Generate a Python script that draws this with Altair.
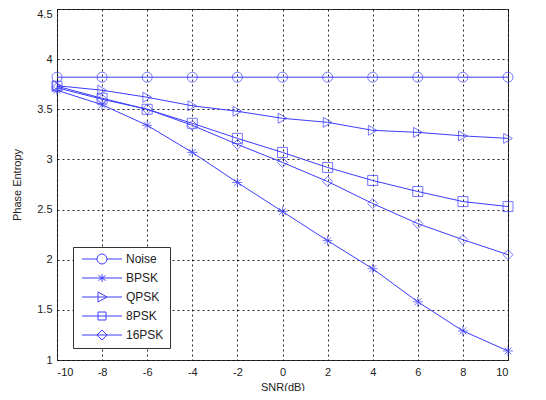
import altair as alt
import pandas as pd

snr = [-10, -8, -6, -4, -2, 0, 2, 4, 6, 8, 10]
series = ["Noise", "BPSK", "QPSK", "8PSK", "16PSK"]
noise = [3.82, 3.82, 3.82, 3.82, 3.82, 3.82, 3.82, 3.82, 3.82, 3.82, 3.82]
bpsk = [3.69, 3.545, 3.34, 3.07, 2.77, 2.48, 2.19, 1.91, 1.58, 1.29, 1.09]
qpsk = [3.735, 3.69, 3.62, 3.535, 3.48, 3.41, 3.37, 3.29, 3.27, 3.235, 3.21]
psk8 = [3.73, 3.61, 3.50, 3.36, 3.21, 3.07, 2.92, 2.79, 2.68, 2.58, 2.53]
psk16 = [3.715, 3.60, 3.50, 3.34, 3.15, 2.97, 2.78, 2.56, 2.36, 2.20, 2.05]
x_ticks = [-10, -8, -6, -4, -2, 0, 2, 4, 6, 8, 10]
y_ticks = [1, 1.5, 2, 2.5, 3, 3.5, 4, 4.5]

values = [noise, bpsk, qpsk, psk8, psk16]
rows = []
for name, vals in zip(series, values):
    for x, y in zip(snr, vals):
        rows.append({"snr": x, "entropy": y, "series": name, "series_leg": name})
df = pd.DataFrame(rows)

BLUE = "#3c3cff"
FONT = "Liberation Sans"

plot_shapes = [
    "circle",
    "M0,-1L0,1M-1,0L1,0M-0.7,-0.7L0.7,0.7M-0.7,0.7L0.7,-0.7",
    "triangle-right",
    "square",
    "diamond",
]
legend_shapes = [
    "M-4,0L-1,0M1,0L4,0M-1,0A1,1 0 1,1 1,0A1,1 0 1,1 -1,0",
    "M-4,0L4,0M0,-0.8L0,0.8M-0.7,-0.5L0.7,0.5M-0.7,0.5L0.7,-0.5",
    "M-4,0L4,0M-0.8,-1L1,0L-0.8,1Z",
    "M-4,0L4,0M-0.8,-0.8L0.8,-0.8L0.8,0.8L-0.8,0.8Z",
    "M-4,0L4,0M-1,0L0,-1L1,0L0,1Z",
]

x_enc = alt.X(
    "snr:Q",
    scale=alt.Scale(domain=[-10, 10], nice=False),
    axis=alt.Axis(values=x_ticks, title="SNR(dB)", labelExpr="'' + datum.value"),
)
y_enc = alt.Y(
    "entropy:Q",
    scale=alt.Scale(domain=[1, 4.5], nice=False, zero=False),
    axis=alt.Axis(
        values=y_ticks,
        title="Phase Entropy",
        format=".2~f",
        labelOffset={"condition": {"test": "datum.value == 4.5", "value": 5}, "value": 0},
    ),
)

lines = alt.Chart(df).mark_line(color=BLUE, strokeWidth=1).encode(
    x=x_enc, y=y_enc, detail="series:N"
)
points = alt.Chart(df).mark_point(color=BLUE, filled=False, size=100, strokeWidth=1).encode(
    x=x_enc,
    y=y_enc,
    shape=alt.Shape("series:N", scale=alt.Scale(domain=series, range=plot_shapes), legend=None),
)
legend_layer = alt.Chart(df).mark_point(color=BLUE, filled=False, opacity=0, size=100).encode(
    x=x_enc,
    y=y_enc,
    shape=alt.Shape(
        "series_leg:N",
        scale=alt.Scale(domain=series, range=legend_shapes),
        legend=alt.Legend(
            title=None,
            orient="none",
            legendX=16,
            legendY=238,
            symbolSize=100,
            symbolOpacity=1,
            symbolStrokeColor=BLUE,
            symbolFillColor="transparent",
            symbolStrokeWidth=1,
            symbolOffset=17,
            labelOffset=18,
            labelExpr="datum.label + '\u00a0\u00a0'",
            rowPadding=6,
            padding=6,
            strokeColor="#333333",
            fillColor="white",
            labelFont=FONT,
            labelFontSize=12,
            labelColor="#222222",
        ),
    ),
)

chart = (
    alt.layer(lines, points, legend_layer)
    .resolve_scale(shape="independent")
    .resolve_legend(shape="independent")
    .properties(
        width=451,
        height=351,
        autosize=alt.AutoSizeParams(type="none"),
        padding={"left": 49, "top": 1, "right": 30, "bottom": 31},
        background="white",
    )
    .configure_view(stroke="#333333", strokeWidth=1)
    .configure_axis(
        grid=True,
        gridColor="#000000",
        gridDash=[2, 3],
        gridOpacity=0.85,
        gridWidth=1,
        domain=False,
        ticks=False,
        labelFont=FONT,
        labelFontSize=11,
        labelColor="#222222",
        titleFont=FONT,
        titleFontSize=11,
        titleFontWeight="normal",
        titleColor="#222222",
    )
    .configure_axisX(labelPadding=6, titlePadding=4)
    .configure_axisY(labelPadding=5, titlePadding=14)
)

chart.save("out.html", embed_options={"renderer": "svg", "actions": False})
